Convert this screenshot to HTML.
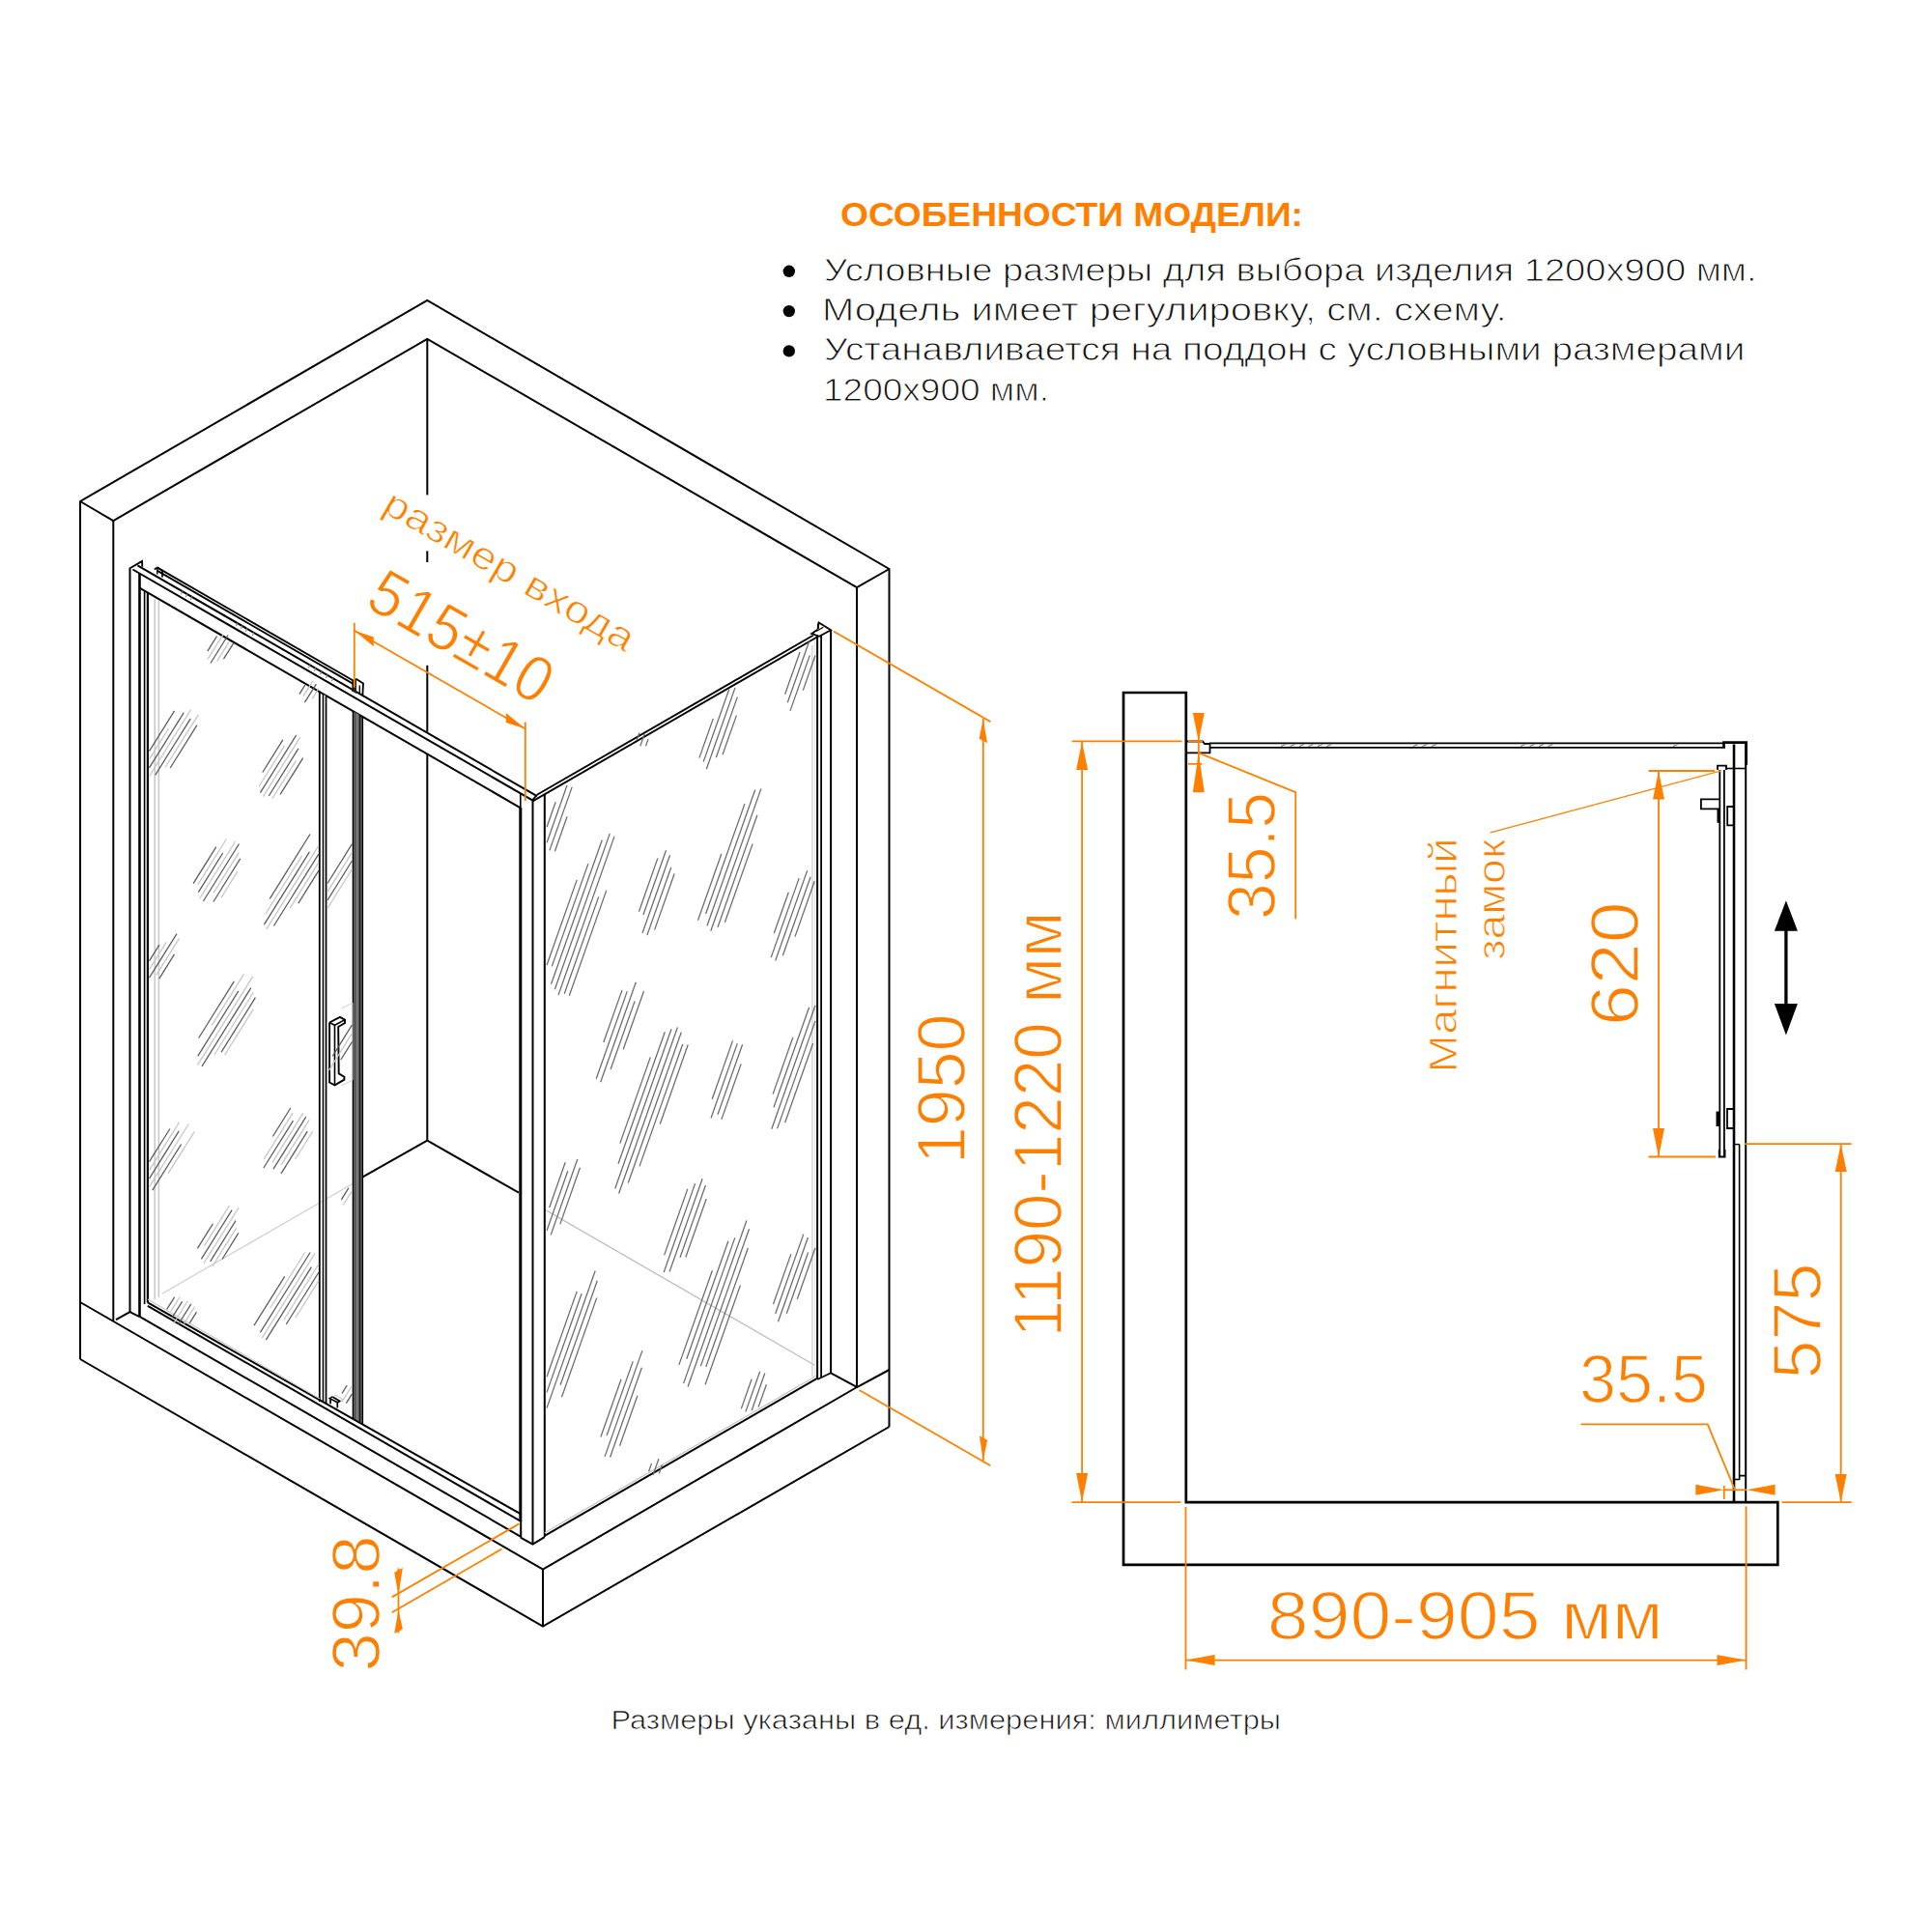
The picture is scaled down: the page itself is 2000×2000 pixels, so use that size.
<!DOCTYPE html>
<html><head><meta charset="utf-8"><title>Shower enclosure</title>
<style>html,body{margin:0;padding:0;background:#fff;}svg{display:block;}text{font-family:"Liberation Sans",sans-serif;}</style>
</head><body>
<svg width="2000" height="2000" viewBox="0 0 2000 2000">
<rect width="2000" height="2000" fill="#fff"/>
<text transform="translate(870.0,233.5) rotate(0)" font-size="35" fill="#ff8000" font-weight="bold" text-anchor="start" textLength="479" lengthAdjust="spacingAndGlyphs">ОСОБЕННОСТИ МОДЕЛИ:</text>
<text transform="translate(853.0,290.6) rotate(0)" font-size="33" fill="#111" font-weight="normal" text-anchor="start" textLength="965.6" lengthAdjust="spacingAndGlyphs" stroke="#fff" stroke-width="0.9" stroke-linejoin="round">Условные размеры для выбора изделия 1200х900 мм.</text>
<circle cx="816.8" cy="280.8" r="6.2" fill="#000"/>
<text transform="translate(851.0,331.9) rotate(0)" font-size="33" fill="#111" font-weight="normal" text-anchor="start" textLength="708.6" lengthAdjust="spacingAndGlyphs" stroke="#fff" stroke-width="0.9" stroke-linejoin="round">Модель имеет регулировку,  см.  схему.</text>
<circle cx="816.8" cy="322.1" r="6.2" fill="#000"/>
<text transform="translate(853.0,373.2) rotate(0)" font-size="33" fill="#111" font-weight="normal" text-anchor="start" textLength="953.3" lengthAdjust="spacingAndGlyphs" stroke="#fff" stroke-width="0.9" stroke-linejoin="round">Устанавливается на поддон с условными размерами</text>
<circle cx="816.8" cy="363.4" r="6.2" fill="#000"/>
<text transform="translate(852.0,414.5) rotate(0)" font-size="33" fill="#111" font-weight="normal" text-anchor="start" textLength="234" lengthAdjust="spacingAndGlyphs" stroke="#fff" stroke-width="0.9" stroke-linejoin="round">1200х900 мм.</text>
<text transform="translate(632.5,1790.2) rotate(0)" font-size="27" fill="#111" font-weight="normal" text-anchor="start" textLength="693.5" lengthAdjust="spacingAndGlyphs" stroke="#fff" stroke-width="0.7" stroke-linejoin="round">Размеры указаны в ед. измерения: миллиметры</text>
<polyline points="83.0,1407.0 83.0,519.0 442.3,311.0 920.5,589.0 920.5,1477.0" fill="none" stroke="#000" stroke-width="2.0" stroke-linejoin="miter" />
<polyline points="83.0,519.0 117.3,539.0 442.3,351.0 887.0,608.0 920.5,589.0" fill="none" stroke="#000" stroke-width="2.0" stroke-linejoin="miter" />
<line x1="117.3" y1="539.0" x2="117.3" y2="1367.5" stroke="#000" stroke-width="2.0" />
<line x1="887.0" y1="608.0" x2="887.0" y2="1436.0" stroke="#000" stroke-width="2.0" />
<line x1="442.3" y1="351.0" x2="442.3" y2="512.4" stroke="#000" stroke-width="2.0" />
<line x1="442.3" y1="570.4" x2="442.3" y2="582.0" stroke="#000" stroke-width="2.0" />
<line x1="442.3" y1="688.8" x2="442.3" y2="757.7" stroke="#000" stroke-width="2.0" />
<line x1="442.3" y1="781.0" x2="442.3" y2="1180.6" stroke="#000" stroke-width="2.0" />
<polyline points="83.0,1348.0 562.0,1624.5 887.0,1436.0 920.5,1418.0" fill="none" stroke="#000" stroke-width="2.0" stroke-linejoin="miter" />
<polyline points="83.0,1407.0 562.0,1683.5 920.5,1477.0" fill="none" stroke="#000" stroke-width="2.0" stroke-linejoin="miter" />
<line x1="562.0" y1="1624.5" x2="562.0" y2="1683.5" stroke="#000" stroke-width="2.0" />
<line x1="442.3" y1="1180.6" x2="375.1" y2="1218.6" stroke="#000" stroke-width="2.0" />
<line x1="442.3" y1="1180.6" x2="537.0" y2="1234.7" stroke="#000" stroke-width="2.0" />
<line x1="364.8" y1="1225.5" x2="167.8" y2="1339.3" stroke="#d0d0d0" stroke-width="1.3" />
<line x1="565.2" y1="1252.8" x2="843.0" y2="1413.0" stroke="#bdbdbd" stroke-width="1.3" />
<line x1="134.5" y1="589.0" x2="134.5" y2="1358.2" stroke="#000" stroke-width="2.0" />
<line x1="144.5" y1="593.6" x2="144.5" y2="1363.1" stroke="#000" stroke-width="2.6" />
<polyline points="120.0,1366.2 134.5,1358.2 144.5,1363.1" fill="none" stroke="#000" stroke-width="2.0" stroke-linejoin="miter" />
<polyline points="133.7,588.8 147.1,580.9 147.3,586.8" fill="none" stroke="#000" stroke-width="1.8" stroke-linejoin="miter" />
<line x1="149.6" y1="612.0" x2="149.6" y2="1350.0" stroke="#000" stroke-width="1.6" />
<line x1="152.9" y1="614.0" x2="152.9" y2="1348.4" stroke="#000" stroke-width="2.2" />
<line x1="160.2" y1="620.0" x2="160.2" y2="1345.0" stroke="#c8c8c8" stroke-width="1.5" />
<line x1="164.4" y1="622.0" x2="164.4" y2="1343.0" stroke="#c8c8c8" stroke-width="1.5" />
<line x1="163.0" y1="587.6" x2="366.0" y2="704.8" stroke="#000" stroke-width="1.8" />
<line x1="163.0" y1="590.9" x2="366.0" y2="708.1" stroke="#000" stroke-width="1.8" />
<polyline points="159.8,589.5 162.8,587.6 168.0,590.5 168.0,597.5" fill="none" stroke="#000" stroke-width="1.7" stroke-linejoin="miter" />
<line x1="162.8" y1="587.6" x2="162.8" y2="594.5" stroke="#000" stroke-width="1.4" />
<line x1="142.4" y1="585.4" x2="555.9" y2="824.2" stroke="#000" stroke-width="2.0" />
<line x1="137.4" y1="589.5" x2="551.5" y2="828.6" stroke="#000" stroke-width="2.0" />
<line x1="144.5" y1="608.6" x2="538.8" y2="836.3" stroke="#000" stroke-width="2.0" />
<line x1="189.2" y1="611.3" x2="187.4" y2="615.3" stroke="#777" stroke-width="1.0" />
<line x1="194.2" y1="614.1" x2="192.4" y2="618.1" stroke="#777" stroke-width="1.0" />
<line x1="199.2" y1="617.0" x2="197.4" y2="621.0" stroke="#777" stroke-width="1.0" />
<line x1="246.2" y1="644.2" x2="244.4" y2="648.2" stroke="#777" stroke-width="1.0" />
<line x1="251.2" y1="647.0" x2="249.4" y2="651.0" stroke="#777" stroke-width="1.0" />
<line x1="256.2" y1="649.9" x2="254.4" y2="653.9" stroke="#777" stroke-width="1.0" />
<line x1="263.2" y1="654.0" x2="261.4" y2="658.0" stroke="#777" stroke-width="1.0" />
<line x1="321.2" y1="687.5" x2="319.4" y2="691.5" stroke="#777" stroke-width="1.0" />
<line x1="327.2" y1="690.9" x2="325.4" y2="694.9" stroke="#777" stroke-width="1.0" />
<line x1="333.2" y1="694.4" x2="331.4" y2="698.4" stroke="#777" stroke-width="1.0" />
<line x1="339.2" y1="697.9" x2="337.4" y2="701.9" stroke="#777" stroke-width="1.0" />
<line x1="345.2" y1="701.3" x2="343.4" y2="705.3" stroke="#777" stroke-width="1.0" />
<line x1="330.8" y1="716.5" x2="330.8" y2="1451.0" stroke="#000" stroke-width="1.8" />
<line x1="334.5" y1="718.6" x2="334.5" y2="1452.0" stroke="#000" stroke-width="1.6" />
<line x1="336.0" y1="719.5" x2="336.0" y2="1452.0" stroke="#c8c8c8" stroke-width="1.6" />
<line x1="337.6" y1="720.4" x2="337.6" y2="1453.0" stroke="#000" stroke-width="1.6" />
<polygon points="366.2,736.6 372.2,740.1 372.2,1471.6 366.2,1468.4" fill="#5a5a5a"/>
<line x1="369.8" y1="739.0" x2="369.8" y2="1470.0" stroke="#aaa" stroke-width="0.8" />
<line x1="365.5" y1="736.0" x2="365.5" y2="1468.0" stroke="#000" stroke-width="1.6" />
<line x1="372.9" y1="740.5" x2="372.9" y2="1472.0" stroke="#000" stroke-width="1.6" />
<line x1="375.2" y1="741.8" x2="375.2" y2="1474.0" stroke="#000" stroke-width="1.8" />
<polyline points="365.3,716.0 365.3,705.0 369.0,703.0 376.0,707.5 375.4,719.5" fill="none" stroke="#000" stroke-width="1.8" stroke-linejoin="miter" />
<polygon points="365.3,705 369,703 369,718 365.3,716" fill="#222"/>
<line x1="372.3" y1="709.5" x2="372.3" y2="718.0" stroke="#000" stroke-width="1.3" />
<polyline points="341.1,1058.5 351.9,1052.8 357.0,1055.6 357.0,1059.0 350.2,1063.0 350.7,1111.4 356.4,1114.8 356.4,1117.6 346.5,1123.3 341.1,1120.5 341.1,1058.5" fill="none" stroke="#000" stroke-width="1.9" stroke-linejoin="miter" />
<polyline points="341.1,1058.5 346.5,1061.3 357.0,1055.6" fill="none" stroke="#000" stroke-width="1.6" stroke-linejoin="miter" />
<line x1="346.5" y1="1061.3" x2="346.5" y2="1123.3" stroke="#000" stroke-width="1.6" />
<polyline points="353.6,1044.0 365.0,1038.0 365.0,1118.0 353.6,1124.0" fill="none" stroke="#d0d0d0" stroke-width="1.0" stroke-linejoin="miter" />
<line x1="152.9" y1="1348.4" x2="538.8" y2="1567.2" stroke="#000" stroke-width="2.0" />
<line x1="152.9" y1="1344.9" x2="330.8" y2="1447.8" stroke="#c8c8c8" stroke-width="1.2" />
<line x1="152.9" y1="1351.8" x2="538.8" y2="1574.6" stroke="#000" stroke-width="2.0" />
<line x1="144.5" y1="1362.9" x2="538.8" y2="1590.6" stroke="#000" stroke-width="2.0" />
<polygon points="341.3,1447.6 344.2,1446.0 351.9,1450.5 349.3,1451.8" fill="none" stroke="#000" stroke-width="1.6" stroke-linejoin="miter" />
<line x1="342.1" y1="1448.0" x2="342.1" y2="1453.3" stroke="#000" stroke-width="1.7" />
<line x1="349.3" y1="1451.8" x2="349.3" y2="1457.5" stroke="#000" stroke-width="1.7" />
<polyline points="344.2,1446.0 347.3,1444.3 354.5,1448.4 351.9,1450.5" fill="none" stroke="#c0c0c0" stroke-width="1.0" stroke-linejoin="miter" />
<line x1="538.8" y1="821.1" x2="538.8" y2="836.0" stroke="#000" stroke-width="1.6" />
<line x1="538.8" y1="836.0" x2="538.8" y2="1575.0" stroke="#000" stroke-width="3.0" />
<line x1="539.2" y1="1575.0" x2="539.2" y2="1591.6" stroke="#000" stroke-width="2.0" />
<line x1="551.5" y1="827.9" x2="551.5" y2="1598.6" stroke="#000" stroke-width="2.0" />
<line x1="563.8" y1="821.9" x2="563.8" y2="1591.0" stroke="#000" stroke-width="2.0" />
<line x1="555.9" y1="822.8" x2="551.5" y2="827.9" stroke="#000" stroke-width="1.8" />
<polyline points="538.8,1591.6 551.5,1598.6 563.8,1591.2" fill="none" stroke="#000" stroke-width="2.0" stroke-linejoin="miter" />
<line x1="555.9" y1="822.8" x2="841.7" y2="657.8" stroke="#000" stroke-width="1.9" />
<line x1="551.5" y1="829.4" x2="846.2" y2="659.2" stroke="#000" stroke-width="1.9" />
<line x1="563.8" y1="1589.8" x2="845.5" y2="1427.1" stroke="#000" stroke-width="2.0" />
<line x1="563.8" y1="1586.8" x2="845.5" y2="1424.1" stroke="#c0c0c0" stroke-width="1.2" />
<line x1="840.9" y1="668.0" x2="840.9" y2="1425.0" stroke="#cfcfcf" stroke-width="1.3" />
<line x1="843.8" y1="662.0" x2="843.8" y2="1426.0" stroke="#dadada" stroke-width="1.0" />
<line x1="846.1" y1="657.3" x2="846.1" y2="1428.0" stroke="#000" stroke-width="2.0" />
<line x1="850.1" y1="657.0" x2="850.1" y2="1426.0" stroke="#000" stroke-width="1.8" />
<line x1="860.1" y1="652.4" x2="860.1" y2="1421.3" stroke="#000" stroke-width="2.0" />
<polyline points="846.7,651.0 847.6,644.6 860.1,652.2 848.0,658.8 840.2,655.9 846.7,651.5" fill="none" stroke="#000" stroke-width="1.8" stroke-linejoin="miter" />
<line x1="846.7" y1="645.5" x2="846.7" y2="651.0" stroke="#000" stroke-width="1.6" />
<line x1="852.3" y1="649.3" x2="845.0" y2="653.5" stroke="#000" stroke-width="1.3" />
<line x1="860.1" y1="1421.3" x2="887.0" y2="1435.8" stroke="#000" stroke-width="2.0" />
<line x1="846.1" y1="1428.0" x2="860.1" y2="1421.3" stroke="#000" stroke-width="1.6" />
<line x1="214.8" y1="674.2" x2="224.5" y2="658.6" stroke="#5a5a5a" stroke-width="1.25" />
<line x1="215.1" y1="682.4" x2="231.0" y2="656.9" stroke="#c6c6c6" stroke-width="1.25" />
<line x1="218.0" y1="686.5" x2="236.0" y2="657.5" stroke="#5a5a5a" stroke-width="1.25" />
<line x1="224.7" y1="684.4" x2="237.2" y2="664.3" stroke="#c6c6c6" stroke-width="1.25" />
<line x1="231.5" y1="682.1" x2="242.1" y2="665.3" stroke="#5a5a5a" stroke-width="1.25" />
<line x1="309.9" y1="718.7" x2="315.8" y2="709.2" stroke="#5a5a5a" stroke-width="1.25" />
<line x1="314.0" y1="720.7" x2="323.9" y2="704.8" stroke="#c6c6c6" stroke-width="1.25" />
<line x1="315.4" y1="727.2" x2="327.4" y2="708.1" stroke="#5a5a5a" stroke-width="1.25" />
<line x1="323.2" y1="723.4" x2="330.0" y2="712.5" stroke="#c6c6c6" stroke-width="1.25" />
<line x1="154.5" y1="777.6" x2="180.6" y2="735.8" stroke="#5a5a5a" stroke-width="1.25" />
<line x1="154.5" y1="786.2" x2="174.6" y2="754.0" stroke="#c6c6c6" stroke-width="1.25" />
<line x1="154.5" y1="794.9" x2="190.2" y2="737.8" stroke="#5a5a5a" stroke-width="1.25" />
<line x1="154.5" y1="803.6" x2="197.6" y2="734.6" stroke="#c6c6c6" stroke-width="1.25" />
<line x1="160.7" y1="802.4" x2="197.3" y2="743.9" stroke="#5a5a5a" stroke-width="1.25" />
<line x1="171.0" y1="794.5" x2="205.3" y2="739.8" stroke="#c6c6c6" stroke-width="1.25" />
<line x1="176.2" y1="795.0" x2="203.9" y2="750.7" stroke="#5a5a5a" stroke-width="1.25" />
<line x1="271.8" y1="799.5" x2="292.8" y2="765.8" stroke="#5a5a5a" stroke-width="1.25" />
<line x1="268.1" y1="814.0" x2="294.5" y2="771.8" stroke="#c6c6c6" stroke-width="1.25" />
<line x1="269.4" y1="820.7" x2="306.7" y2="761.0" stroke="#5a5a5a" stroke-width="1.25" />
<line x1="272.4" y1="824.6" x2="310.6" y2="763.4" stroke="#c6c6c6" stroke-width="1.25" />
<line x1="278.2" y1="824.0" x2="308.9" y2="774.8" stroke="#5a5a5a" stroke-width="1.25" />
<line x1="281.7" y1="827.0" x2="306.5" y2="787.4" stroke="#c6c6c6" stroke-width="1.25" />
<line x1="290.1" y1="822.3" x2="313.7" y2="784.6" stroke="#5a5a5a" stroke-width="1.25" />
<line x1="200.1" y1="914.6" x2="223.8" y2="876.7" stroke="#5a5a5a" stroke-width="1.25" />
<line x1="204.9" y1="915.7" x2="234.4" y2="868.5" stroke="#c6c6c6" stroke-width="1.25" />
<line x1="205.4" y1="923.6" x2="230.7" y2="883.0" stroke="#5a5a5a" stroke-width="1.25" />
<line x1="206.5" y1="930.5" x2="243.6" y2="871.0" stroke="#c6c6c6" stroke-width="1.25" />
<line x1="210.4" y1="933.0" x2="247.5" y2="873.5" stroke="#5a5a5a" stroke-width="1.25" />
<line x1="221.1" y1="924.4" x2="247.2" y2="882.7" stroke="#c6c6c6" stroke-width="1.25" />
<line x1="220.9" y1="933.5" x2="248.7" y2="888.9" stroke="#5a5a5a" stroke-width="1.25" />
<line x1="229.2" y1="928.8" x2="245.9" y2="902.2" stroke="#c6c6c6" stroke-width="1.25" />
<line x1="279.3" y1="930.3" x2="321.0" y2="863.5" stroke="#5a5a5a" stroke-width="1.25" />
<line x1="274.6" y1="946.5" x2="312.5" y2="885.9" stroke="#c6c6c6" stroke-width="1.25" />
<line x1="273.4" y1="957.1" x2="320.4" y2="881.9" stroke="#5a5a5a" stroke-width="1.25" />
<line x1="275.7" y1="962.1" x2="330.0" y2="875.2" stroke="#c6c6c6" stroke-width="1.25" />
<line x1="283.4" y1="958.5" x2="330.0" y2="883.9" stroke="#5a5a5a" stroke-width="1.25" />
<line x1="300.2" y1="940.2" x2="330.0" y2="892.6" stroke="#c6c6c6" stroke-width="1.25" />
<line x1="308.8" y1="935.2" x2="330.0" y2="901.2" stroke="#5a5a5a" stroke-width="1.25" />
<line x1="154.5" y1="994.8" x2="164.9" y2="978.2" stroke="#5a5a5a" stroke-width="1.25" />
<line x1="154.5" y1="1003.5" x2="172.2" y2="975.3" stroke="#c6c6c6" stroke-width="1.25" />
<line x1="154.5" y1="1012.2" x2="183.0" y2="966.6" stroke="#5a5a5a" stroke-width="1.25" />
<line x1="161.6" y1="1009.6" x2="185.5" y2="971.3" stroke="#c6c6c6" stroke-width="1.25" />
<line x1="164.8" y1="1013.1" x2="180.5" y2="987.9" stroke="#5a5a5a" stroke-width="1.25" />
<line x1="205.7" y1="1074.5" x2="242.3" y2="1015.9" stroke="#5a5a5a" stroke-width="1.25" />
<line x1="219.3" y1="1061.4" x2="252.5" y2="1008.3" stroke="#c6c6c6" stroke-width="1.25" />
<line x1="204.7" y1="1093.4" x2="246.9" y2="1025.9" stroke="#5a5a5a" stroke-width="1.25" />
<line x1="204.4" y1="1102.7" x2="261.7" y2="1010.9" stroke="#c6c6c6" stroke-width="1.25" />
<line x1="209.0" y1="1103.9" x2="259.8" y2="1022.7" stroke="#5a5a5a" stroke-width="1.25" />
<line x1="221.9" y1="1092.0" x2="262.3" y2="1027.3" stroke="#c6c6c6" stroke-width="1.25" />
<line x1="229.1" y1="1089.1" x2="264.4" y2="1032.7" stroke="#5a5a5a" stroke-width="1.25" />
<line x1="232.6" y1="1092.2" x2="262.3" y2="1044.6" stroke="#c6c6c6" stroke-width="1.25" />
<line x1="154.5" y1="1202.7" x2="175.9" y2="1168.5" stroke="#5a5a5a" stroke-width="1.25" />
<line x1="154.5" y1="1211.4" x2="185.6" y2="1161.7" stroke="#c6c6c6" stroke-width="1.25" />
<line x1="154.5" y1="1220.1" x2="185.2" y2="1170.9" stroke="#5a5a5a" stroke-width="1.25" />
<line x1="154.5" y1="1228.7" x2="195.3" y2="1163.5" stroke="#c6c6c6" stroke-width="1.25" />
<line x1="157.8" y1="1232.1" x2="187.6" y2="1184.5" stroke="#5a5a5a" stroke-width="1.25" />
<line x1="174.0" y1="1214.8" x2="201.3" y2="1171.3" stroke="#c6c6c6" stroke-width="1.25" />
<line x1="282.4" y1="1176.5" x2="300.8" y2="1147.0" stroke="#5a5a5a" stroke-width="1.25" />
<line x1="273.1" y1="1200.1" x2="303.1" y2="1152.1" stroke="#c6c6c6" stroke-width="1.25" />
<line x1="272.9" y1="1209.0" x2="303.5" y2="1160.1" stroke="#5a5a5a" stroke-width="1.25" />
<line x1="282.0" y1="1203.1" x2="313.9" y2="1152.2" stroke="#c6c6c6" stroke-width="1.25" />
<line x1="283.0" y1="1210.2" x2="316.8" y2="1156.2" stroke="#5a5a5a" stroke-width="1.25" />
<line x1="291.2" y1="1205.7" x2="320.2" y2="1159.4" stroke="#c6c6c6" stroke-width="1.25" />
<line x1="291.0" y1="1214.8" x2="318.2" y2="1171.2" stroke="#5a5a5a" stroke-width="1.25" />
<line x1="305.6" y1="1200.0" x2="323.8" y2="1171.0" stroke="#c6c6c6" stroke-width="1.25" />
<line x1="204.4" y1="1292.3" x2="220.4" y2="1266.8" stroke="#5a5a5a" stroke-width="1.25" />
<line x1="211.6" y1="1289.6" x2="237.4" y2="1248.2" stroke="#c6c6c6" stroke-width="1.25" />
<line x1="208.4" y1="1303.3" x2="240.1" y2="1252.6" stroke="#5a5a5a" stroke-width="1.25" />
<line x1="210.9" y1="1307.9" x2="247.1" y2="1250.1" stroke="#c6c6c6" stroke-width="1.25" />
<line x1="217.7" y1="1305.8" x2="244.0" y2="1263.6" stroke="#5a5a5a" stroke-width="1.25" />
<line x1="219.9" y1="1310.9" x2="244.7" y2="1271.2" stroke="#c6c6c6" stroke-width="1.25" />
<line x1="230.0" y1="1303.5" x2="246.9" y2="1276.4" stroke="#5a5a5a" stroke-width="1.25" />
<line x1="263.0" y1="1372.1" x2="294.7" y2="1321.4" stroke="#5a5a5a" stroke-width="1.25" />
<line x1="279.8" y1="1354.0" x2="315.7" y2="1296.5" stroke="#c6c6c6" stroke-width="1.25" />
<line x1="269.4" y1="1379.3" x2="321.1" y2="1296.5" stroke="#5a5a5a" stroke-width="1.25" />
<line x1="271.2" y1="1385.1" x2="326.1" y2="1297.3" stroke="#c6c6c6" stroke-width="1.25" />
<line x1="275.3" y1="1387.2" x2="322.4" y2="1311.7" stroke="#5a5a5a" stroke-width="1.25" />
<line x1="293.7" y1="1366.5" x2="330.0" y2="1308.3" stroke="#c6c6c6" stroke-width="1.25" />
<line x1="296.2" y1="1371.0" x2="330.0" y2="1317.0" stroke="#5a5a5a" stroke-width="1.25" />
<line x1="306.0" y1="1364.0" x2="330.0" y2="1325.7" stroke="#c6c6c6" stroke-width="1.25" />
<line x1="172.7" y1="1355.3" x2="180.6" y2="1342.8" stroke="#5a5a5a" stroke-width="1.25" />
<line x1="176.7" y1="1357.6" x2="186.1" y2="1342.5" stroke="#c6c6c6" stroke-width="1.25" />
<line x1="177.9" y1="1364.4" x2="188.6" y2="1347.3" stroke="#5a5a5a" stroke-width="1.25" />
<line x1="179.8" y1="1370.0" x2="194.2" y2="1347.0" stroke="#c6c6c6" stroke-width="1.25" />
<line x1="184.6" y1="1371.0" x2="197.7" y2="1350.1" stroke="#5a5a5a" stroke-width="1.25" />
<line x1="190.5" y1="1370.3" x2="201.6" y2="1352.6" stroke="#c6c6c6" stroke-width="1.25" />
<line x1="196.2" y1="1369.8" x2="203.5" y2="1358.1" stroke="#5a5a5a" stroke-width="1.25" />
<line x1="339.0" y1="914.5" x2="364.5" y2="873.7" stroke="#5a5a5a" stroke-width="1.25" />
<line x1="339.0" y1="923.2" x2="364.5" y2="882.4" stroke="#c6c6c6" stroke-width="1.25" />
<line x1="339.0" y1="931.8" x2="364.5" y2="891.0" stroke="#5a5a5a" stroke-width="1.25" />
<line x1="339.0" y1="940.5" x2="364.5" y2="899.7" stroke="#c6c6c6" stroke-width="1.25" />
<line x1="344.3" y1="1093.3" x2="364.5" y2="1060.9" stroke="#5a5a5a" stroke-width="1.25" />
<line x1="340.5" y1="1108.1" x2="364.5" y2="1069.6" stroke="#c6c6c6" stroke-width="1.25" />
<line x1="352.8" y1="1097.0" x2="364.5" y2="1078.3" stroke="#5a5a5a" stroke-width="1.25" />
<line x1="353.4" y1="1241.8" x2="360.8" y2="1229.9" stroke="#5a5a5a" stroke-width="1.25" />
<line x1="355.4" y1="1247.3" x2="364.5" y2="1232.7" stroke="#c6c6c6" stroke-width="1.25" />
<line x1="354.0" y1="1442.4" x2="359.2" y2="1434.1" stroke="#5a5a5a" stroke-width="1.25" />
<line x1="354.0" y1="1451.1" x2="364.3" y2="1434.5" stroke="#c6c6c6" stroke-width="1.25" />
<line x1="358.4" y1="1452.6" x2="364.5" y2="1442.9" stroke="#5a5a5a" stroke-width="1.25" />
<line x1="812.6" y1="718.7" x2="828.1" y2="675.0" stroke="#6a6a6a" stroke-width="1.25" />
<line x1="815.3" y1="727.3" x2="837.9" y2="663.2" stroke="#6a6a6a" stroke-width="1.25" />
<line x1="818.0" y1="735.9" x2="838.3" y2="678.4" stroke="#6a6a6a" stroke-width="1.25" />
<line x1="831.3" y1="714.6" x2="844.0" y2="678.5" stroke="#6a6a6a" stroke-width="1.25" />
<line x1="723.9" y1="784.6" x2="738.3" y2="743.9" stroke="#6a6a6a" stroke-width="1.25" />
<line x1="728.2" y1="788.6" x2="754.7" y2="713.7" stroke="#6a6a6a" stroke-width="1.25" />
<line x1="731.3" y1="796.2" x2="761.0" y2="711.9" stroke="#6a6a6a" stroke-width="1.25" />
<line x1="741.3" y1="784.2" x2="763.3" y2="721.6" stroke="#6a6a6a" stroke-width="1.25" />
<line x1="748.0" y1="781.2" x2="762.4" y2="740.6" stroke="#6a6a6a" stroke-width="1.25" />
<line x1="659.1" y1="766.4" x2="661.9" y2="758.5" stroke="#6a6a6a" stroke-width="1.25" />
<line x1="662.8" y1="772.3" x2="667.2" y2="759.7" stroke="#6a6a6a" stroke-width="1.25" />
<line x1="668.5" y1="772.3" x2="671.0" y2="765.1" stroke="#6a6a6a" stroke-width="1.25" />
<line x1="566.0" y1="856.3" x2="575.2" y2="830.2" stroke="#6a6a6a" stroke-width="1.25" />
<line x1="566.0" y1="872.5" x2="587.0" y2="813.0" stroke="#6a6a6a" stroke-width="1.25" />
<line x1="568.9" y1="880.4" x2="592.2" y2="814.6" stroke="#6a6a6a" stroke-width="1.25" />
<line x1="574.4" y1="881.2" x2="587.1" y2="845.2" stroke="#6a6a6a" stroke-width="1.25" />
<line x1="566.0" y1="999.3" x2="597.2" y2="910.9" stroke="#6a6a6a" stroke-width="1.25" />
<line x1="571.3" y1="1000.4" x2="608.9" y2="894.1" stroke="#6a6a6a" stroke-width="1.25" />
<line x1="570.5" y1="1018.9" x2="623.2" y2="869.7" stroke="#6a6a6a" stroke-width="1.25" />
<line x1="574.3" y1="1024.3" x2="631.3" y2="862.9" stroke="#6a6a6a" stroke-width="1.25" />
<line x1="578.0" y1="1030.1" x2="636.0" y2="865.9" stroke="#6a6a6a" stroke-width="1.25" />
<line x1="584.2" y1="1028.8" x2="619.7" y2="928.4" stroke="#6a6a6a" stroke-width="1.25" />
<line x1="589.3" y1="1030.7" x2="627.7" y2="921.9" stroke="#6a6a6a" stroke-width="1.25" />
<line x1="661.4" y1="943.7" x2="680.9" y2="888.4" stroke="#6a6a6a" stroke-width="1.25" />
<line x1="665.9" y1="947.0" x2="689.5" y2="880.3" stroke="#6a6a6a" stroke-width="1.25" />
<line x1="665.0" y1="966.0" x2="693.5" y2="885.2" stroke="#6a6a6a" stroke-width="1.25" />
<line x1="669.9" y1="968.1" x2="694.7" y2="898.0" stroke="#6a6a6a" stroke-width="1.25" />
<line x1="677.6" y1="962.6" x2="698.1" y2="904.5" stroke="#6a6a6a" stroke-width="1.25" />
<line x1="722.5" y1="952.8" x2="746.8" y2="884.0" stroke="#6a6a6a" stroke-width="1.25" />
<line x1="730.6" y1="946.0" x2="770.9" y2="832.1" stroke="#6a6a6a" stroke-width="1.25" />
<line x1="732.0" y1="958.3" x2="781.7" y2="817.5" stroke="#6a6a6a" stroke-width="1.25" />
<line x1="735.8" y1="963.8" x2="787.9" y2="816.4" stroke="#6a6a6a" stroke-width="1.25" />
<line x1="743.0" y1="959.7" x2="783.9" y2="843.8" stroke="#6a6a6a" stroke-width="1.25" />
<line x1="750.4" y1="954.8" x2="779.1" y2="873.6" stroke="#6a6a6a" stroke-width="1.25" />
<line x1="801.3" y1="966.0" x2="816.3" y2="923.7" stroke="#6a6a6a" stroke-width="1.25" />
<line x1="798.2" y1="991.1" x2="827.2" y2="909.1" stroke="#6a6a6a" stroke-width="1.25" />
<line x1="802.7" y1="994.5" x2="835.7" y2="901.1" stroke="#6a6a6a" stroke-width="1.25" />
<line x1="810.3" y1="989.3" x2="839.1" y2="907.7" stroke="#6a6a6a" stroke-width="1.25" />
<line x1="823.0" y1="969.6" x2="843.2" y2="912.3" stroke="#6a6a6a" stroke-width="1.25" />
<line x1="624.8" y1="1079.0" x2="644.0" y2="1024.9" stroke="#6a6a6a" stroke-width="1.25" />
<line x1="617.2" y1="1116.8" x2="649.3" y2="1026.1" stroke="#6a6a6a" stroke-width="1.25" />
<line x1="621.7" y1="1120.2" x2="658.3" y2="1016.8" stroke="#6a6a6a" stroke-width="1.25" />
<line x1="632.1" y1="1107.0" x2="657.1" y2="1036.4" stroke="#6a6a6a" stroke-width="1.25" />
<line x1="645.2" y1="1086.2" x2="666.5" y2="1026.0" stroke="#6a6a6a" stroke-width="1.25" />
<line x1="641.8" y1="1183.6" x2="673.3" y2="1094.4" stroke="#6a6a6a" stroke-width="1.25" />
<line x1="640.0" y1="1204.8" x2="688.3" y2="1068.2" stroke="#6a6a6a" stroke-width="1.25" />
<line x1="636.7" y1="1230.5" x2="695.0" y2="1065.3" stroke="#6a6a6a" stroke-width="1.25" />
<line x1="640.6" y1="1235.5" x2="701.4" y2="1063.5" stroke="#6a6a6a" stroke-width="1.25" />
<line x1="650.3" y1="1224.5" x2="705.2" y2="1068.8" stroke="#6a6a6a" stroke-width="1.25" />
<line x1="662.0" y1="1207.4" x2="706.7" y2="1081.0" stroke="#6a6a6a" stroke-width="1.25" />
<line x1="683.2" y1="1163.7" x2="712.2" y2="1081.5" stroke="#6a6a6a" stroke-width="1.25" />
<line x1="737.2" y1="1137.7" x2="758.5" y2="1077.4" stroke="#6a6a6a" stroke-width="1.25" />
<line x1="736.0" y1="1157.5" x2="763.3" y2="1080.1" stroke="#6a6a6a" stroke-width="1.25" />
<line x1="743.0" y1="1153.7" x2="768.6" y2="1081.2" stroke="#6a6a6a" stroke-width="1.25" />
<line x1="746.9" y1="1158.9" x2="767.2" y2="1101.4" stroke="#6a6a6a" stroke-width="1.25" />
<line x1="800.1" y1="1132.6" x2="820.8" y2="1074.0" stroke="#6a6a6a" stroke-width="1.25" />
<line x1="801.0" y1="1146.2" x2="837.6" y2="1042.7" stroke="#6a6a6a" stroke-width="1.25" />
<line x1="798.8" y1="1168.7" x2="844.0" y2="1040.7" stroke="#6a6a6a" stroke-width="1.25" />
<line x1="804.6" y1="1168.4" x2="844.0" y2="1056.9" stroke="#6a6a6a" stroke-width="1.25" />
<line x1="812.6" y1="1162.2" x2="841.6" y2="1080.0" stroke="#6a6a6a" stroke-width="1.25" />
<line x1="568.7" y1="1250.0" x2="585.2" y2="1203.3" stroke="#6a6a6a" stroke-width="1.25" />
<line x1="566.0" y1="1274.0" x2="587.8" y2="1212.2" stroke="#6a6a6a" stroke-width="1.25" />
<line x1="570.2" y1="1278.4" x2="597.8" y2="1200.0" stroke="#6a6a6a" stroke-width="1.25" />
<line x1="579.9" y1="1267.1" x2="600.4" y2="1208.8" stroke="#6a6a6a" stroke-width="1.25" />
<line x1="687.6" y1="1299.4" x2="711.8" y2="1230.9" stroke="#6a6a6a" stroke-width="1.25" />
<line x1="687.2" y1="1317.0" x2="719.6" y2="1225.1" stroke="#6a6a6a" stroke-width="1.25" />
<line x1="693.1" y1="1316.5" x2="727.1" y2="1220.2" stroke="#6a6a6a" stroke-width="1.25" />
<line x1="704.0" y1="1301.8" x2="730.4" y2="1227.0" stroke="#6a6a6a" stroke-width="1.25" />
<line x1="709.8" y1="1301.5" x2="731.2" y2="1241.0" stroke="#6a6a6a" stroke-width="1.25" />
<line x1="566.0" y1="1425.2" x2="597.2" y2="1336.9" stroke="#6a6a6a" stroke-width="1.25" />
<line x1="566.0" y1="1441.4" x2="602.1" y2="1339.2" stroke="#6a6a6a" stroke-width="1.25" />
<line x1="566.0" y1="1457.6" x2="616.2" y2="1315.5" stroke="#6a6a6a" stroke-width="1.25" />
<line x1="580.1" y1="1433.8" x2="618.3" y2="1325.8" stroke="#6a6a6a" stroke-width="1.25" />
<line x1="581.5" y1="1446.3" x2="617.7" y2="1343.6" stroke="#6a6a6a" stroke-width="1.25" />
<line x1="702.9" y1="1412.9" x2="737.4" y2="1315.2" stroke="#6a6a6a" stroke-width="1.25" />
<line x1="710.8" y1="1406.7" x2="753.9" y2="1284.8" stroke="#6a6a6a" stroke-width="1.25" />
<line x1="707.6" y1="1432.1" x2="760.8" y2="1281.4" stroke="#6a6a6a" stroke-width="1.25" />
<line x1="712.1" y1="1435.5" x2="772.9" y2="1263.5" stroke="#6a6a6a" stroke-width="1.25" />
<line x1="725.4" y1="1414.1" x2="775.5" y2="1272.2" stroke="#6a6a6a" stroke-width="1.25" />
<line x1="730.8" y1="1415.0" x2="774.3" y2="1292.0" stroke="#6a6a6a" stroke-width="1.25" />
<line x1="730.1" y1="1433.3" x2="766.4" y2="1330.5" stroke="#6a6a6a" stroke-width="1.25" />
<line x1="800.5" y1="1350.0" x2="818.9" y2="1298.1" stroke="#6a6a6a" stroke-width="1.25" />
<line x1="802.7" y1="1360.0" x2="831.8" y2="1277.6" stroke="#6a6a6a" stroke-width="1.25" />
<line x1="805.5" y1="1368.3" x2="836.4" y2="1281.0" stroke="#6a6a6a" stroke-width="1.25" />
<line x1="814.3" y1="1359.7" x2="836.6" y2="1296.5" stroke="#6a6a6a" stroke-width="1.25" />
<line x1="825.3" y1="1344.8" x2="844.0" y2="1291.8" stroke="#6a6a6a" stroke-width="1.25" />
<line x1="621.9" y1="1487.5" x2="643.0" y2="1427.8" stroke="#6a6a6a" stroke-width="1.25" />
<line x1="628.1" y1="1486.0" x2="655.2" y2="1409.4" stroke="#6a6a6a" stroke-width="1.25" />
<line x1="626.1" y1="1507.9" x2="664.9" y2="1398.1" stroke="#6a6a6a" stroke-width="1.25" />
<line x1="631.6" y1="1508.5" x2="664.4" y2="1415.7" stroke="#6a6a6a" stroke-width="1.25" />
<line x1="641.5" y1="1496.8" x2="659.9" y2="1444.8" stroke="#6a6a6a" stroke-width="1.25" />
<line x1="767.3" y1="1458.4" x2="778.1" y2="1427.8" stroke="#6a6a6a" stroke-width="1.25" />
<line x1="771.9" y1="1461.4" x2="786.7" y2="1419.7" stroke="#6a6a6a" stroke-width="1.25" />
<line x1="778.2" y1="1460.0" x2="791.8" y2="1421.5" stroke="#6a6a6a" stroke-width="1.25" />
<line x1="785.1" y1="1456.6" x2="793.4" y2="1433.2" stroke="#6a6a6a" stroke-width="1.25" />
<line x1="671.6" y1="1523.3" x2="674.5" y2="1514.9" stroke="#6a6a6a" stroke-width="1.25" />
<line x1="676.0" y1="1527.0" x2="682.0" y2="1510.0" stroke="#6a6a6a" stroke-width="1.25" />
<line x1="682.3" y1="1525.4" x2="685.4" y2="1516.5" stroke="#6a6a6a" stroke-width="1.25" />
<line x1="366.8" y1="645.0" x2="366.8" y2="711.8" stroke="#ff8000" stroke-width="1.8" />
<line x1="543.8" y1="747.5" x2="543.8" y2="829.0" stroke="#ff8000" stroke-width="1.8" />
<line x1="366.8" y1="652.8" x2="543.8" y2="754.5" stroke="#ff8000" stroke-width="1.8" />
<polygon points="366.8,652.8 386.8,669.2 386.8,659.4" fill="#ff8000"/>
<polygon points="543.8,754.5 523.8,747.9 523.8,738.1" fill="#ff8000"/>
<line x1="862.9" y1="653.5" x2="1025.3" y2="747.1" stroke="#ff8000" stroke-width="1.8" />
<line x1="889.5" y1="1439.0" x2="1025.2" y2="1517.2" stroke="#ff8000" stroke-width="1.8" />
<line x1="1017.8" y1="744.0" x2="1017.8" y2="1512.2" stroke="#ff8000" stroke-width="1.8" />
<polygon points="1017.8,744.0 1022.1,769.2 1013.6,764.8" fill="#ff8000"/>
<polygon points="1017.8,1512.2 1022.1,1490.8 1013.9,1486.2" fill="#ff8000"/>
<line x1="405.7" y1="1653.4" x2="537.4" y2="1577.4" stroke="#ff8000" stroke-width="1.8" />
<line x1="405.7" y1="1669.3" x2="519.4" y2="1603.5" stroke="#ff8000" stroke-width="1.8" />
<line x1="412.5" y1="1623.4" x2="412.5" y2="1690.4" stroke="#ff8000" stroke-width="1.8" />
<polygon points="412.5,1651.3 416.9,1623.0 408.2,1627.7" fill="#ff8000"/>
<polygon points="412.5,1666.8 416.9,1686.6 408.2,1691.0" fill="#ff8000"/>
<text transform="translate(998.5,1205.0) rotate(-90)" font-size="70" fill="#ff8000" font-weight="normal" text-anchor="start" textLength="155.5" lengthAdjust="spacingAndGlyphs" stroke="#fff" stroke-width="1.5" stroke-linejoin="round">1950</text>
<text transform="translate(392.5,1730.5) rotate(-90)" font-size="70" fill="#ff8000" font-weight="normal" text-anchor="start" textLength="141" lengthAdjust="spacingAndGlyphs" stroke="#fff" stroke-width="1.5" stroke-linejoin="round">39.8</text>
<g transform="translate(394,529) rotate(30)"><text font-size="40" fill="#ff8000" textLength="293" lengthAdjust="spacingAndGlyphs" stroke="#fff" stroke-width="0.9" stroke-linejoin="round">размер входа</text></g>
<g transform="translate(376,627) rotate(30)"><text font-size="67.7" fill="#ff8000" textLength="208" lengthAdjust="spacingAndGlyphs" stroke="#fff" stroke-width="1.4" stroke-linejoin="round">515±10</text></g>
<polygon points="1163.0,717.0 1227.8,717.0 1227.8,1555.2 1840.3,1555.2 1840.3,1619.8 1163.0,1619.8" fill="none" stroke="#000" stroke-width="2.7" stroke-linejoin="miter" />
<line x1="1252.0" y1="769.4" x2="1786.0" y2="769.4" stroke="#000" stroke-width="1.8" />
<line x1="1252.0" y1="773.8" x2="1786.0" y2="773.8" stroke="#000" stroke-width="1.8" />
<line x1="1326.0" y1="772.6" x2="1331.0" y2="770.6" stroke="#777" stroke-width="1.1" />
<line x1="1335.5" y1="772.6" x2="1340.5" y2="770.6" stroke="#777" stroke-width="1.1" />
<line x1="1345.0" y1="772.6" x2="1350.0" y2="770.6" stroke="#777" stroke-width="1.1" />
<line x1="1354.5" y1="772.6" x2="1359.5" y2="770.6" stroke="#777" stroke-width="1.1" />
<line x1="1364.0" y1="772.6" x2="1369.0" y2="770.6" stroke="#777" stroke-width="1.1" />
<line x1="1373.5" y1="772.6" x2="1378.5" y2="770.6" stroke="#777" stroke-width="1.1" />
<line x1="1463.0" y1="772.6" x2="1468.0" y2="770.6" stroke="#777" stroke-width="1.1" />
<line x1="1472.5" y1="772.6" x2="1477.5" y2="770.6" stroke="#777" stroke-width="1.1" />
<line x1="1482.0" y1="772.6" x2="1487.0" y2="770.6" stroke="#777" stroke-width="1.1" />
<line x1="1574.0" y1="772.6" x2="1579.0" y2="770.6" stroke="#777" stroke-width="1.1" />
<line x1="1583.5" y1="772.6" x2="1588.5" y2="770.6" stroke="#777" stroke-width="1.1" />
<line x1="1593.0" y1="772.6" x2="1598.0" y2="770.6" stroke="#777" stroke-width="1.1" />
<line x1="1602.5" y1="772.6" x2="1607.5" y2="770.6" stroke="#777" stroke-width="1.1" />
<line x1="1732.0" y1="772.6" x2="1737.0" y2="770.6" stroke="#777" stroke-width="1.1" />
<polyline points="1229.0,767.5 1245.0,767.5 1247.0,770.0 1252.5,770.0 1252.5,779.4 1229.0,779.4" fill="none" stroke="#000" stroke-width="1.8" stroke-linejoin="miter" />
<polyline points="1784.5,774.0 1784.5,768.6 1807.7,768.6 1807.7,791.8" fill="none" stroke="#000" stroke-width="2.6" stroke-linejoin="miter" />
<line x1="1795.0" y1="770.5" x2="1795.0" y2="1555.0" stroke="#000" stroke-width="2.6" />
<line x1="1807.2" y1="768.6" x2="1807.2" y2="1555.0" stroke="#000" stroke-width="2.0" />
<line x1="1787.0" y1="795.5" x2="1807.2" y2="795.5" stroke="#000" stroke-width="1.6" />
<line x1="1780.3" y1="797.0" x2="1780.3" y2="1197.5" stroke="#000" stroke-width="1.8" />
<line x1="1784.9" y1="797.0" x2="1784.9" y2="1197.5" stroke="#000" stroke-width="1.8" />
<polyline points="1778.0,797.0 1778.0,792.6 1787.0,792.6 1787.0,797.0" fill="none" stroke="#000" stroke-width="1.8" stroke-linejoin="miter" />
<polyline points="1779.7,1190.0 1779.7,1197.5 1785.6,1197.5 1785.6,1190.0" fill="none" stroke="#000" stroke-width="1.8" stroke-linejoin="miter" />
<polyline points="1779.9,827.4 1760.9,827.4 1760.9,837.3 1779.9,837.3" fill="none" stroke="#000" stroke-width="1.8" stroke-linejoin="miter" />
<line x1="1778.7" y1="837.0" x2="1778.7" y2="851.8" stroke="#000" stroke-width="2.4" />
<polyline points="1794.4,835.0 1788.2,835.0 1788.2,854.3 1794.4,854.3" fill="none" stroke="#000" stroke-width="1.8" stroke-linejoin="miter" />
<rect x="1776.5" y="1150.5" width="3.8" height="15.5" fill="#000"/>
<polyline points="1794.4,1148.0 1788.0,1148.0 1788.0,1168.0 1794.4,1168.0" fill="none" stroke="#000" stroke-width="1.8" stroke-linejoin="miter" />
<line x1="1800.6" y1="1184.6" x2="1800.6" y2="1527.6" stroke="#000" stroke-width="1.6" />
<polyline points="1794.9,1184.6 1800.6,1184.6" fill="none" stroke="#000" stroke-width="1.4" stroke-linejoin="miter" />
<polyline points="1795.5,1531.5 1800.6,1531.5 1800.6,1527.6 1806.6,1527.6" fill="none" stroke="#000" stroke-width="1.6" stroke-linejoin="miter" />
<line x1="1109.7" y1="767.4" x2="1223.6" y2="767.4" stroke="#ff8000" stroke-width="1.8" />
<line x1="1109.4" y1="1555.2" x2="1222.5" y2="1555.2" stroke="#ff8000" stroke-width="1.8" />
<line x1="1120.1" y1="767.4" x2="1120.1" y2="1555.2" stroke="#ff8000" stroke-width="1.8" />
<polygon points="1120.1,767.4 1114.1,797.0 1126.1,797.0" fill="#ff8000"/>
<polygon points="1120.1,1555.2 1126.1,1525.0 1114.1,1525.0" fill="#ff8000"/>
<line x1="1240.8" y1="738.0" x2="1240.8" y2="820.2" stroke="#ff8000" stroke-width="1.8" />
<polygon points="1240.8,767.4 1246.8,738.0 1234.8,738.0" fill="#ff8000"/>
<polygon points="1240.8,779.4 1234.8,820.2 1246.8,820.2" fill="#ff8000"/>
<line x1="1230.0" y1="790.8" x2="1244.5" y2="790.8" stroke="#ff8000" stroke-width="1.8" />
<line x1="1230.0" y1="767.4" x2="1245.0" y2="767.4" stroke="#ff8000" stroke-width="1.8" />
<polyline points="1240.8,779.4 1341.2,820.2 1341.2,951.2" fill="none" stroke="#ff8000" stroke-width="1.8" stroke-linejoin="miter" />
<text transform="translate(1320.0,952.0) rotate(-90)" font-size="70" fill="#ff8000" font-weight="normal" text-anchor="start" textLength="132" lengthAdjust="spacingAndGlyphs" stroke="#fff" stroke-width="1.5" stroke-linejoin="round">35.5</text>
<text transform="translate(1099.0,1384.5) rotate(-90)" font-size="70" fill="#ff8000" font-weight="normal" text-anchor="start" textLength="441" lengthAdjust="spacingAndGlyphs" stroke="#fff" stroke-width="1.5" stroke-linejoin="round">1190-1220 мм</text>
<polyline points="1542.9,861.8 1781.6,798.0" fill="none" stroke="#ff8000" stroke-width="1.3" stroke-linejoin="miter" />
<text transform="translate(1508.0,1110.5) rotate(-90)" font-size="40" fill="#ff8000" font-weight="normal" text-anchor="start" textLength="243" lengthAdjust="spacingAndGlyphs" stroke="#fff" stroke-width="0.9" stroke-linejoin="round">Магнитный</text>
<text transform="translate(1557.7,993.8) rotate(-90)" font-size="40" fill="#ff8000" font-weight="normal" text-anchor="start" textLength="125" lengthAdjust="spacingAndGlyphs" stroke="#fff" stroke-width="0.9" stroke-linejoin="round">замок</text>
<line x1="1706.6" y1="798.0" x2="1775.0" y2="798.0" stroke="#ff8000" stroke-width="1.8" />
<line x1="1706.4" y1="1197.5" x2="1775.9" y2="1197.5" stroke="#ff8000" stroke-width="1.8" />
<line x1="1717.0" y1="798.0" x2="1717.0" y2="1197.5" stroke="#ff8000" stroke-width="1.8" />
<polygon points="1717.0,798.0 1711.0,827.4 1723.0,827.4" fill="#ff8000"/>
<polygon points="1717.0,1197.5 1723.0,1167.9 1711.0,1167.9" fill="#ff8000"/>
<text transform="translate(1696.0,1062.0) rotate(-90)" font-size="70" fill="#ff8000" font-weight="normal" text-anchor="start" textLength="128.5" lengthAdjust="spacingAndGlyphs" stroke="#fff" stroke-width="1.5" stroke-linejoin="round">620</text>
<line x1="1848.9" y1="960.0" x2="1848.9" y2="1042.0" stroke="#000" stroke-width="3.3" />
<polygon points="1848.9,932.3 1836.9,963.8 1860.9,963.8" fill="#000"/>
<polygon points="1848.9,1071.4 1860.9,1039.1 1836.9,1039.1" fill="#000"/>
<line x1="1805.8" y1="1184.1" x2="1916.8" y2="1184.1" stroke="#ff8000" stroke-width="1.8" />
<line x1="1844.6" y1="1555.2" x2="1916.8" y2="1555.2" stroke="#ff8000" stroke-width="1.8" />
<line x1="1905.7" y1="1184.1" x2="1905.7" y2="1555.2" stroke="#ff8000" stroke-width="1.8" />
<polygon points="1905.7,1184.1 1899.7,1213.0 1911.7,1213.0" fill="#ff8000"/>
<polygon points="1905.7,1555.2 1911.7,1526.0 1899.7,1526.0" fill="#ff8000"/>
<text transform="translate(1884.5,1427.5) rotate(-90)" font-size="70" fill="#ff8000" font-weight="normal" text-anchor="start" textLength="120" lengthAdjust="spacingAndGlyphs" stroke="#fff" stroke-width="1.5" stroke-linejoin="round">575</text>
<polyline points="1636.5,1474.3 1767.7,1474.3 1796.0,1542.3" fill="none" stroke="#ff8000" stroke-width="1.8" stroke-linejoin="miter" />
<line x1="1784.8" y1="1542.3" x2="1808.0" y2="1542.3" stroke="#ff8000" stroke-width="1.8" />
<polygon points="1784.8,1542.3 1755.3,1536.8 1755.3,1547.8" fill="#ff8000"/>
<polygon points="1808.0,1542.3 1837.6,1547.8 1837.6,1536.8" fill="#ff8000"/>
<line x1="1784.8" y1="1538.0" x2="1784.8" y2="1552.0" stroke="#ff8000" stroke-width="1.8" />
<text transform="translate(1635.0,1451.7) rotate(0)" font-size="70" fill="#ff8000" font-weight="normal" text-anchor="start" textLength="133" lengthAdjust="spacingAndGlyphs" stroke="#fff" stroke-width="1.5" stroke-linejoin="round">35.5</text>
<line x1="1227.5" y1="1560.0" x2="1227.5" y2="1728.4" stroke="#ff8000" stroke-width="1.8" />
<line x1="1807.6" y1="1559.4" x2="1807.6" y2="1728.4" stroke="#ff8000" stroke-width="1.8" />
<line x1="1227.5" y1="1718.6" x2="1807.6" y2="1718.6" stroke="#ff8000" stroke-width="1.8" />
<polygon points="1227.5,1718.6 1257.6,1724.1 1257.6,1713.1" fill="#ff8000"/>
<polygon points="1807.6,1718.6 1777.5,1713.1 1777.5,1724.1" fill="#ff8000"/>
<text transform="translate(1311.8,1696.5) rotate(0)" font-size="70" fill="#ff8000" font-weight="normal" text-anchor="start" textLength="410" lengthAdjust="spacingAndGlyphs" stroke="#fff" stroke-width="1.5" stroke-linejoin="round">890-905 мм</text>
</svg>
</body></html>
